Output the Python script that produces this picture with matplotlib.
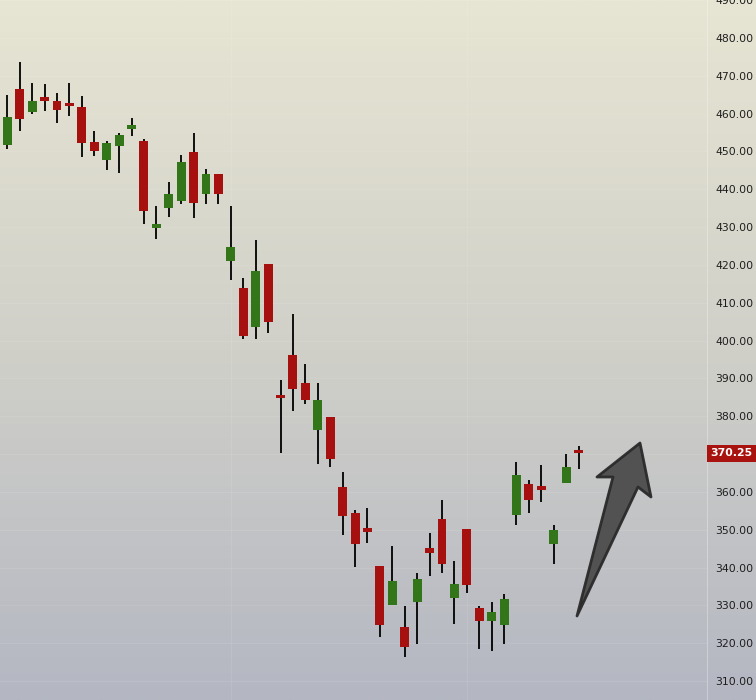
import numpy as np
import matplotlib
matplotlib.use('Agg')
import matplotlib.pyplot as plt
from matplotlib.patches import Polygon, Rectangle
from matplotlib.colors import LinearSegmentedColormap
from matplotlib.transforms import blended_transform_factory

# OHLC, one entry per candle
opens = [451.7, 466.5, 460.5, 464.2, 463.4, 462.2, 461.8, 452.5, 447.8, 451.5,
         456.0, 452.8, 429.8, 434.9, 437.0, 449.9, 438.6, 444.1, 420.9, 414.0,
         403.7, 420.1, 385.2, 396.1, 388.9, 376.3, 379.7, 361.2, 354.3, 350.1,
         340.3, 330.1, 324.2, 330.8, 345.1, 352.8, 331.9, 350.1, 329.3, 325.8,
         324.8, 353.8, 362.0, 361.1, 346.1, 362.3, 370.5]
highs = [465.0, 473.7, 468.1, 467.9, 465.5, 468.1, 464.7, 455.4, 452.8, 454.9,
         458.9, 453.3, 435.6, 442.0, 449.1, 454.9, 445.4, 444.1, 435.6, 416.6,
         426.7, 420.1, 389.5, 406.9, 393.7, 388.9, 379.7, 365.2, 355.1, 355.7,
         340.3, 345.6, 329.8, 338.5, 349.1, 357.8, 341.7, 350.1, 329.8, 330.8,
         332.9, 367.8, 363.1, 367.0, 351.2, 369.9, 372.0]
lows = [450.5, 455.3, 459.8, 460.7, 457.4, 459.4, 448.4, 448.8, 445.2, 444.4,
        454.1, 430.9, 426.9, 432.7, 436.2, 432.5, 436.2, 436.2, 416.1, 400.3,
        400.3, 402.1, 370.2, 381.3, 383.1, 367.5, 366.5, 348.5, 340.1, 346.4,
        321.6, 330.1, 316.3, 319.8, 337.7, 338.5, 325.0, 333.2, 318.5, 317.9,
        319.8, 351.2, 354.3, 357.2, 340.9, 362.3, 366.0]
closes = [459.0, 458.6, 463.4, 463.4, 461.0, 461.9, 452.3, 450.2, 452.3, 454.4,
          457.0, 434.3, 430.9, 438.6, 447.3, 436.4, 444.1, 438.6, 424.6, 401.3,
          418.5, 404.8, 384.8, 387.3, 384.2, 384.4, 368.6, 353.5, 346.2, 349.5,
          324.8, 336.4, 319.0, 336.9, 343.8, 340.9, 335.6, 335.3, 325.8, 328.2,
          331.6, 364.4, 357.8, 360.6, 349.8, 366.7, 370.25]
last_price = 370.25
y_ticks = np.arange(310, 491, 10)

W, H = 756, 700
fig = plt.figure(figsize=(W / 100, H / 100), dpi=100)

# gradient background over the whole figure
bg = fig.add_axes([0, 0, 1, 1])
bg.set_axis_off()
cmap = LinearSegmentedColormap.from_list('bg', ['#e7e5d3', '#d0d0c9', '#b4b7c2'])
bg.imshow(np.linspace(0, 1, 256).reshape(-1, 1), aspect='auto', cmap=cmap,
          extent=[0, 1, 0, 1], origin='upper')
bg.set_xlim(0, 1)
bg.set_ylim(0, 1)

ax = fig.add_axes([0, 0, 706.5 / W, 1])
ax.patch.set_alpha(0)
ax.set_xlim(-0.59, 56.3)
ax.set_ylim(305.0, 489.8)

# faint grid
for v in y_ticks:
    ax.axhline(v, color='white', lw=0.8, alpha=0.09, zorder=0)
for xi in (18, 37):
    ax.axvline(xi, color='white', lw=0.8, alpha=0.09, zorder=0)

up_c, down_c = '#33761a', '#a6100f'
body_w = 0.72
for i, (o, h, l, c) in enumerate(zip(opens, highs, lows, closes)):
    col = up_c if c >= o else down_c
    ax.vlines(i, l, h, color='black', lw=1.3, zorder=2)
    bot = min(o, c)
    hgt = max(abs(c - o), 0.9)
    ax.add_patch(Rectangle((i - body_w / 2, bot), body_w, hgt,
                           facecolor=col, edgecolor='none', zorder=3))

for s in ax.spines.values():
    s.set_visible(False)
ax.spines['right'].set_visible(True)
ax.spines['right'].set_color('white')
ax.spines['right'].set_alpha(0.3)
ax.set_xticks([])
ax.yaxis.tick_right()
ax.set_yticks(y_ticks)
ax.set_yticklabels([f'{v:.2f}' for v in y_ticks])
ax.tick_params(axis='y', length=0, pad=6.5, labelsize=7.8, labelcolor='#1e1e1e')
# hide the 370 tick label under the tag
for lbl, v in zip(ax.get_yticklabels(), y_ticks):
    if v == 370:
        lbl.set_visible(False)

# current price tag: x in figure fraction, y in data
tr = blended_transform_factory(fig.transFigure, ax.transData)
tag_h = 17 / H * (489.8 - 305.0)
fig.add_artist(Rectangle((707 / W, last_price - tag_h / 2), 49 / W, tag_h,
                         transform=tr, facecolor='#a8120f', edgecolor='none', zorder=5))
fig.text(731.5 / W, last_price, f'{last_price:.2f}', transform=tr, ha='center', va='center',
         color='white', fontsize=7.8, fontweight='bold', zorder=6)

# big grey arrow annotation (figure pixel coords, y from top)
arrow_px = [(640, 443), (651, 497), (638, 487), (577, 616), (613, 477), (597, 477)]
pts = [(x / W, 1 - y / H) for x, y in arrow_px]
fig.add_artist(Polygon(pts, closed=True, transform=fig.transFigure,
                       facecolor='#4c4c4c', edgecolor='#2a2a2a', lw=2.0,
                       joinstyle='round', alpha=0.95, zorder=6))

fig.savefig('out.png', dpi=100)
